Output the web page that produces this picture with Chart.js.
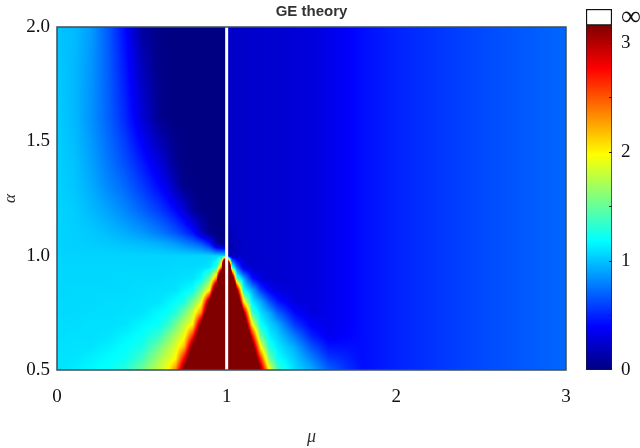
<!DOCTYPE html>
<html>
<head>
<meta charset="utf-8">
<script src="https://cdn.jsdelivr.net/npm/chart.js@4.4.0/dist/chart.umd.min.js"></script>
<style>
  html, body { margin: 0; padding: 0; background: #fff; }
  #wrap { position: relative; width: 640px; height: 448px; }
  #main { position: absolute; left: 0; top: 0; }
  #cbar { position: absolute; left: 580px; top: 0; }
</style>
</head>
<body>
<div id="wrap">
  <canvas id="main" width="640" height="448"></canvas>
  <canvas id="cbar" width="60" height="448"></canvas>
</div>
<script>
// grid nodes
const muGrid = [0, 0.1, 0.2, 0.3, 0.4, 0.5, 0.6, 0.65, 0.7, 0.75, 0.8, 0.85, 0.9, 0.94, 0.97, 0.99,
                1.01, 1.03, 1.06, 1.1, 1.15, 1.2, 1.25, 1.3, 1.4, 1.5, 1.6, 1.8, 2.0, 2.25, 2.5, 2.75, 3.0];
const alphaGrid = [2.0, 1.8, 1.6, 1.4, 1.3, 1.2, 1.1, 1.05, 1.0, 0.95, 0.9, 0.85, 0.8, 0.75, 0.7, 0.65, 0.6, 0.55, 0.5];

// one row per alpha, one value per mu (values above the colour scale show as dark red)
const values = [
  [1.0, 0.98, 0.88, 0.68, 0.42, 0.1, 0.02, 0.01, 0.01, 0.01, 0.01, 0.01, 0.01, 0.01, 0.01, 0.01,
   0.23, 0.23, 0.23, 0.23, 0.24, 0.24, 0.25, 0.25, 0.27, 0.29, 0.33, 0.43, 0.5, 0.56, 0.62, 0.67, 0.71],
  [1.02, 0.97, 0.86, 0.69, 0.47, 0.2, 0.03, 0.02, 0.01, 0.01, 0.01, 0.01, 0.01, 0.01, 0.01, 0.01,
   0.23, 0.23, 0.23, 0.23, 0.24, 0.24, 0.25, 0.25, 0.27, 0.29, 0.33, 0.43, 0.5, 0.56, 0.62, 0.67, 0.71],
  [1.03, 0.97, 0.85, 0.7, 0.52, 0.28, 0.06, 0.02, 0.01, 0.01, 0.01, 0.01, 0.01, 0.01, 0.01, 0.01,
   0.23, 0.23, 0.23, 0.23, 0.24, 0.24, 0.25, 0.25, 0.27, 0.29, 0.33, 0.43, 0.5, 0.56, 0.62, 0.67, 0.71],
  [1.04, 1.0, 0.9, 0.77, 0.64, 0.48, 0.3, 0.18, 0.06, 0.02, 0.01, 0.01, 0.01, 0.01, 0.01, 0.01,
   0.23, 0.23, 0.23, 0.23, 0.24, 0.24, 0.25, 0.25, 0.27, 0.29, 0.33, 0.43, 0.5, 0.56, 0.62, 0.67, 0.71],
  [1.04, 1.01, 0.93, 0.82, 0.72, 0.58, 0.42, 0.32, 0.17, 0.04, 0.02, 0.01, 0.01, 0.01, 0.01, 0.01,
   0.23, 0.23, 0.23, 0.23, 0.24, 0.24, 0.25, 0.25, 0.27, 0.29, 0.33, 0.43, 0.5, 0.56, 0.62, 0.67, 0.71],
  [1.05, 1.03, 0.97, 0.9, 0.81, 0.7, 0.58, 0.5, 0.4, 0.27, 0.08, 0.02, 0.01, 0.01, 0.01, 0.01,
   0.22, 0.23, 0.23, 0.23, 0.24, 0.24, 0.25, 0.25, 0.27, 0.29, 0.33, 0.43, 0.5, 0.56, 0.62, 0.67, 0.71],
  [1.05, 1.04, 1.02, 0.98, 0.93, 0.87, 0.78, 0.72, 0.65, 0.56, 0.45, 0.22, 0.03, 0.01, 0.01, 0.01,
   0.15, 0.2, 0.22, 0.23, 0.24, 0.24, 0.25, 0.25, 0.27, 0.29, 0.33, 0.43, 0.5, 0.56, 0.62, 0.67, 0.71],
  [1.05, 1.04, 1.03, 1.02, 1.0, 0.98, 0.95, 0.92, 0.88, 0.82, 0.76, 0.68, 0.5, 0.12, 0.02, 0.01,
   0.1, 0.16, 0.2, 0.22, 0.24, 0.24, 0.25, 0.25, 0.27, 0.29, 0.33, 0.43, 0.5, 0.56, 0.62, 0.67, 0.71],
  [1.05, 1.05, 1.05, 1.05, 1.05, 1.05, 1.05, 1.05, 1.05, 1.05, 1.05, 1.05, 1.05, 1.05, 1.05, 1.05,
   0.12, 0.18, 0.21, 0.23, 0.24, 0.24, 0.25, 0.25, 0.27, 0.29, 0.33, 0.43, 0.5, 0.56, 0.62, 0.67, 0.71],
  [1.06, 1.06, 1.06, 1.06, 1.06, 1.06, 1.06, 1.06, 1.07, 1.07, 1.07, 1.08, 1.1, 1.3, 2.36, 7.8,
   6.3, 1.38, 0.7, 0.29, 0.24, 0.24, 0.25, 0.25, 0.27, 0.29, 0.33, 0.43, 0.5, 0.56, 0.62, 0.67, 0.71],
  [1.06, 1.06, 1.06, 1.06, 1.07, 1.07, 1.07, 1.08, 1.08, 1.09, 1.1, 1.18, 1.53, 2.36, 5.2, 12,
   11.5, 4.2, 1.38, 0.93, 0.45, 0.29, 0.25, 0.25, 0.27, 0.29, 0.33, 0.43, 0.5, 0.56, 0.62, 0.67, 0.71],
  [1.06, 1.07, 1.07, 1.07, 1.07, 1.08, 1.09, 1.09, 1.1, 1.16, 1.21, 1.53, 1.98, 4.05, 7.8, 15,
   15, 6.3, 3.18, 1.21, 0.93, 0.57, 0.37, 0.29, 0.27, 0.29, 0.33, 0.43, 0.5, 0.56, 0.62, 0.67, 0.71],
  [1.07, 1.07, 1.07, 1.08, 1.08, 1.09, 1.1, 1.14, 1.19, 1.26, 1.53, 1.87, 3.29, 5.2, 9.5, 15,
   15, 7.6, 4.2, 1.99, 1.12, 0.93, 0.65, 0.45, 0.29, 0.29, 0.33, 0.43, 0.5, 0.56, 0.62, 0.67, 0.71],
  [1.07, 1.07, 1.08, 1.08, 1.09, 1.1, 1.17, 1.2, 1.3, 1.53, 1.8, 2.36, 4.05, 6.5, 10.5, 15,
   15, 9.5, 5.3, 3.18, 1.38, 1.09, 0.93, 0.7, 0.41, 0.29, 0.33, 0.43, 0.5, 0.56, 0.62, 0.67, 0.71],
  [1.08, 1.08, 1.09, 1.09, 1.1, 1.16, 1.21, 1.32, 1.53, 1.76, 1.99, 3.29, 4.8, 7.8, 12, 15,
   15, 11.5, 6.3, 3.87, 1.99, 1.21, 1.06, 0.93, 0.57, 0.37, 0.33, 0.43, 0.5, 0.56, 0.62, 0.67, 0.71],
  [1.08, 1.09, 1.09, 1.1, 1.15, 1.2, 1.34, 1.53, 1.72, 1.92, 2.63, 3.82, 5.3, 8.8, 13, 15,
   15, 13, 7.05, 4.34, 2.81, 1.49, 1.15, 1.04, 0.77, 0.49, 0.35, 0.43, 0.5, 0.56, 0.62, 0.67, 0.71],
  [1.09, 1.1, 1.1, 1.14, 1.19, 1.26, 1.53, 1.7, 1.87, 2.2, 3.3, 4.33, 6.1, 9.5, 14, 15,
   15, 14, 7.6, 5.0, 3.46, 2.0, 1.29, 1.12, 0.93, 0.65, 0.45, 0.43, 0.5, 0.56, 0.62, 0.67, 0.71],
  [1.1, 1.1, 1.14, 1.18, 1.21, 1.38, 1.68, 1.83, 1.99, 2.79, 3.71, 4.8, 7.1, 10, 15, 15,
   15, 15, 8, 5.72, 3.87, 2.63, 1.55, 1.21, 1.02, 0.8, 0.57, 0.43, 0.5, 0.56, 0.62, 0.67, 0.71],
  [1.1, 1.13, 1.17, 1.2, 1.3, 1.53, 1.8, 1.94, 2.36, 3.3, 4.06, 5.16, 7.84, 10.5, 15, 15,
   15, 15, 9.5, 6.32, 4.19, 3.19, 2.0, 1.38, 1.08, 0.93, 0.7, 0.43, 0.5, 0.56, 0.62, 0.67, 0.71]
];

const infMu = 1;                 // the infinite column
const alphaRange = [0.5, 2.0];
const muTicks = [0, 1, 2, 3];
const alphaTicks = [0.5, 1.0, 1.5, 2.0];
const cbarTicks = [0, 1, 2, 3];
const cmax = 3.16;               // top of the colour scale
const cinf = 3.31;               // top of the white "infinity" box

const serif = 'Liberation Serif';

function jet(t) {
  t = Math.min(1, Math.max(0, t));
  const f = (k) => Math.round(255 * Math.min(1, Math.max(0, 1.5 - Math.abs(4 * t - k))));
  return [f(3), f(2), f(1)];
}

function locate(grid, v) {
  for (let i = 0; i < grid.length - 1; i++) {
    const a = grid[i], b = grid[i + 1];
    if ((v - a) * (v - b) <= 0) return [i, (v - a) / (b - a)];
  }
  const n = grid.length;
  return Math.abs(v - grid[0]) < Math.abs(v - grid[n - 1]) ? [0, 0] : [n - 2, 1];
}

// shaded field drawn under the datasets, positioned by the chart scales
const heatmap = {
  id: 'heatmap',
  beforeDatasetsDraw(chart) {
    const { ctx, chartArea: area, scales: { x, y } } = chart;
    const left = Math.round(area.left), top = Math.round(area.top);
    const w = Math.round(area.right) - left, h = Math.round(area.bottom) - top;
    const off = document.createElement('canvas');
    off.width = w; off.height = h;
    const octx = off.getContext('2d');
    const img = octx.createImageData(w, h);
    const cols = [];
    for (let px = 0; px < w; px++) cols.push(locate(muGrid, x.getValueForPixel(left + px + 0.5)));
    for (let py = 0; py < h; py++) {
      const [j, fy] = locate(alphaGrid, y.getValueForPixel(top + py + 0.5));
      const r0 = values[j], r1 = values[j + 1];
      for (let px = 0; px < w; px++) {
        const [i, fx] = cols[px];
        const v = (r0[i] * (1 - fx) + r0[i + 1] * fx) * (1 - fy) + (r1[i] * (1 - fx) + r1[i + 1] * fx) * fy;
        const c = jet(v / cmax);
        const k = (py * w + px) * 4;
        img.data[k] = c[0]; img.data[k + 1] = c[1]; img.data[k + 2] = c[2]; img.data[k + 3] = 255;
      }
    }
    octx.putImageData(img, 0, 0);
    ctx.drawImage(off, left, top);
  },
  afterDatasetsDraw(chart) {
    const { ctx, chartArea: a } = chart;
    ctx.save();
    ctx.strokeStyle = '#3a4f5c';
    ctx.lineWidth = 1.5;
    ctx.strokeRect(a.left, a.top, a.right - a.left, a.bottom - a.top);
    ctx.restore();
  }
};

new Chart(document.getElementById('main'), {
  type: 'scatter',
  data: {
    datasets: [{
      data: alphaRange.map(a => ({ x: infMu, y: a })),
      showLine: true,
      borderColor: '#ffffff',
      borderWidth: 3,
      pointRadius: 0
    }]
  },
  options: {
    responsive: false,
    animation: false,
    layout: { padding: { right: 74 } },
    plugins: {
      legend: { display: false },
      tooltip: { enabled: false },
      title: {
        display: true,
        text: 'GE theory',
        fullSize: false,
        color: '#333',
        font: { family: 'Liberation Sans', size: 15, weight: 'bold' },
        padding: { top: 3, bottom: 6 }
      }
    },
    scales: {
      x: {
        type: 'linear', min: 0, max: 3,
        grid: { display: false, drawTicks: false },
        border: { display: false },
        afterBuildTicks: s => { s.ticks = muTicks.map(v => ({ value: v })); },
        ticks: { padding: 16, color: '#111', font: { family: serif, size: 19 } },
        title: { display: true, text: 'μ', color: '#333', padding: 0,
                 font: { family: serif, size: 18, style: 'italic' } },
        afterFit: s => { s.height = 78; }
      },
      y: {
        type: 'linear', min: alphaRange[0], max: alphaRange[1],
        grid: { display: false, drawTicks: false },
        border: { display: false },
        afterBuildTicks: s => { s.ticks = alphaTicks.map(v => ({ value: v })); },
        ticks: { padding: 7, color: '#111', font: { family: serif, size: 19 },
                 callback: v => v.toFixed(1) },
        title: { display: true, text: 'α', color: '#333', padding: 0,
                 font: { family: serif, size: 17, style: 'italic' } },
        afterFit: s => { s.width = 57; }
      }
    }
  },
  plugins: [heatmap]
});

function cbarFill(context) {
  const { chart } = context;
  if (!chart.chartArea) return '#0000ff';
  const y = chart.scales.y;
  const g = chart.ctx.createLinearGradient(0, y.getPixelForValue(0), 0, y.getPixelForValue(cmax));
  [0, 0.125, 0.375, 0.625, 0.875, 1].forEach(t => {
    const c = jet(t);
    g.addColorStop(t, 'rgb(' + c.join(',') + ')');
  });
  return g;
}

const cbarMarks = {
  id: 'cbarMarks',
  afterDatasetsDraw(chart) {
    const { ctx, chartArea: a, scales: { y } } = chart;
    ctx.save();
    ctx.strokeStyle = '#222';
    ctx.lineWidth = 1;
    for (let v = 0.5; v < cmax; v += 0.5) {
      const py = Math.round(y.getPixelForValue(v)) + 0.5;
      ctx.beginPath();
      ctx.moveTo(a.right - 3, py);
      ctx.lineTo(a.right, py);
      ctx.stroke();
    }
    ctx.restore();
  }
};

new Chart(document.getElementById('cbar'), {
  type: 'bar',
  data: {
    labels: [''],
    datasets: [
      { data: [[0, cmax]], backgroundColor: cbarFill, borderColor: '#1a1a2a', borderWidth: 1,
        borderSkipped: false, barPercentage: 1, categoryPercentage: 1 },
      { data: [[cmax, cinf]], backgroundColor: '#ffffff', borderColor: '#111', borderWidth: 1.5,
        borderSkipped: false, barPercentage: 1, categoryPercentage: 1 }
    ]
  },
  options: {
    responsive: false,
    animation: false,
    layout: { padding: { left: 6, top: 9, bottom: 78, right: 0 } },
    plugins: { legend: { display: false }, tooltip: { enabled: false } },
    scales: {
      x: { display: false, stacked: true },
      y: {
        position: 'right', min: 0, max: cinf,
        grid: { display: false, drawTicks: false },
        border: { display: false },
        afterBuildTicks: s => {
          s.ticks = cbarTicks.map(v => ({ value: v })).concat([{ value: (cmax + cinf) / 2 }]);
        },
        ticks: {
          padding: 9,
          color: '#111',
          font: c => ({ family: serif, size: c.tick && c.tick.value > cmax ? 28 : 19 }),
          callback: v => v > cmax ? '∞' : String(v)
        },
        afterFit: s => { s.width = 28; s.paddingTop = 0; s.paddingBottom = 0; }
      }
    }
  },
  plugins: [cbarMarks]
});
</script>
</body>
</html>
